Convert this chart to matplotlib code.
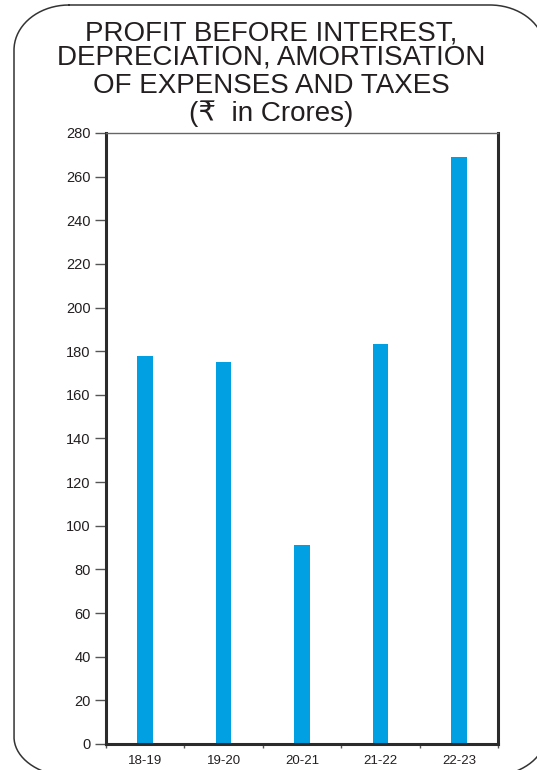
import numpy as np
import matplotlib.pyplot as plt
from matplotlib.lines import Line2D

plt.rcParams['font.family'] = ['Liberation Sans', 'DejaVu Sans']

years = ["18-19", "19-20", "20-21", "21-22", "22-23"]
pbidt = [178, 175, 91, 183.5, 269]
yticks = list(range(0, 281, 20))
title_lines = ["PROFIT BEFORE INTEREST,", "DEPRECIATION, AMORTISATION",
               "OF EXPENSES AND TAXES", "(\u20b9  in Crores)"]

W, H = 537, 770
fig = plt.figure(figsize=(W / 100, H / 100), dpi=100)


def corner(cx, cy, rx, ry, a0, a1):
    t = np.radians(np.linspace(a0, a1, 40))
    return cx + rx * np.cos(t), cy - ry * np.sin(t)


# rounded frame in pixel units (y measured from the top)
L, T, R, B = 14, 5, 545, 777
parts = [corner(L + 55, T + 45, 55, 45, 90, 180),
         corner(L + 60, B - 40, 60, 40, 180, 270),
         corner(R - 60, B - 40, 60, 40, 270, 360),
         corner(R - 55, T + 45, 55, 45, 0, 90)]
fx = np.concatenate([p[0] for p in parts] + [parts[0][0][:1]])
fy = np.concatenate([p[1] for p in parts] + [parts[0][1][:1]])
fig.add_artist(Line2D(fx / W, 1 - fy / H, transform=fig.transFigure,
                      color="#333333", linewidth=1.1, clip_on=False))

ys = [33, 58, 86, 114]
for line, y in zip(title_lines, ys):
    fig.text(0.505, 1 - y / H, line, ha="center", va="center",
             fontsize=20, color="#231f20")

ax = fig.add_axes([0.1974, 0.0338, 0.73, 0.7935])
x = range(len(years))
ax.bar(x, pbidt, width=0.2, color="#00a0e3")

ax.set_xlim(-0.5, 4.5)
ax.set_ylim(0, 280)
ax.set_yticks(yticks)
ax.set_xticks(list(x))
ax.set_xticklabels(years, fontsize=9.5, color="#231f20")
ax.set_xticks([i - 0.5 for i in range(len(years) + 1)], minor=True)
ax.tick_params(axis="x", which="major", length=0, pad=8)
ax.tick_params(axis="x", which="minor", length=3, width=1, color="#555555")
ax.tick_params(axis="y", length=8, width=1, color="#555555",
               labelsize=10.5, labelcolor="#231f20", pad=3)

for side in ["left", "bottom", "right"]:
    ax.spines[side].set_linewidth(2.2)
    ax.spines[side].set_color("#2b2b2b")
ax.spines["top"].set_linewidth(1)
ax.spines["top"].set_color("#666666")

fig.savefig("out.png", dpi=100)
